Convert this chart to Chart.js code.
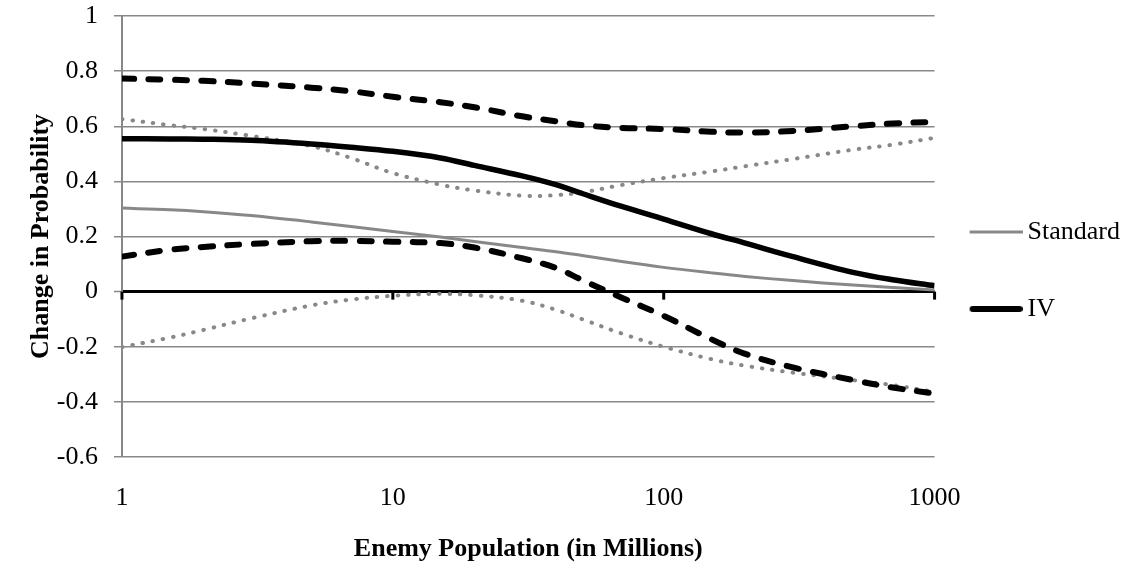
<!DOCTYPE html>
<html>
<head>
<meta charset="utf-8">
<script src="https://cdn.jsdelivr.net/npm/chart.js@4.4.1/dist/chart.umd.min.js"></script>
<style>
  html, body { margin: 0; padding: 0; background: #fff; }
  #wrap { width: 1130px; height: 568px; }
</style>
</head>
<body>
<div id="wrap"><canvas id="chart" width="1130" height="568"></canvas></div>
<script>
// enemy population (millions)
const population = [1, 1.5, 2, 3, 5, 7, 10, 15, 20, 30, 40, 50, 70, 100, 150, 200, 300, 500, 700, 1000];

const standard     = [0.303, 0.297, 0.290, 0.276, 0.253, 0.236, 0.218, 0.198, 0.182, 0.160, 0.145, 0.131, 0.109, 0.088, 0.068, 0.055, 0.040, 0.024, 0.015, 0.006];
const standardHigh = [0.626, 0.604, 0.590, 0.565, 0.528, 0.485, 0.430, 0.388, 0.367, 0.348, 0.350, 0.360, 0.387, 0.412, 0.436, 0.455, 0.481, 0.515, 0.533, 0.558];
const standardLow  = [-0.201, -0.167, -0.139, -0.097, -0.050, -0.029, -0.015, -0.008, -0.013, -0.033, -0.066, -0.100, -0.152, -0.200, -0.245, -0.269, -0.294, -0.321, -0.339, -0.364];

const iv     = [0.555, 0.554, 0.553, 0.549, 0.536, 0.524, 0.509, 0.485, 0.458, 0.420, 0.388, 0.356, 0.309, 0.263, 0.210, 0.176, 0.127, 0.070, 0.043, 0.021];
const ivHigh = [0.773, 0.769, 0.765, 0.755, 0.740, 0.727, 0.707, 0.687, 0.669, 0.636, 0.618, 0.604, 0.594, 0.590, 0.580, 0.577, 0.583, 0.600, 0.610, 0.616];
const ivLow  = [0.127, 0.152, 0.162, 0.173, 0.183, 0.184, 0.181, 0.176, 0.160, 0.121, 0.086, 0.042, -0.022, -0.088, -0.173, -0.226, -0.275, -0.321, -0.348, -0.370];

const xTicks = [1, 10, 100, 1000];

const GRAY = '#888888';

Chart.defaults.font.family = "'Liberation Serif', 'Times New Roman', serif";
Chart.defaults.font.size = 26;
Chart.defaults.color = '#000';

function points(values) {
    return population.map((x, i) => ({ x: x, y: values[i] }));
}

// little line images used as legend markers
function legendLine(color, width, cap) {
    const c = document.createElement('canvas');
    c.width = 61;
    c.height = 8;
    const g = c.getContext('2d');
    g.strokeStyle = color;
    g.lineWidth = width;
    g.lineCap = cap;
    const inset = cap === 'round' ? width / 2 : 0;
    g.beginPath();
    g.moveTo(8 + inset, 4);
    g.lineTo(61 - inset, 4);
    g.stroke();
    return c;
}
const legendMarks = [legendLine(GRAY, 3, 'butt'), legendLine('#000', 6, 'round')];

// black tick marks below the zero line
const zeroTicks = {
    id: 'zeroTicks',
    beforeDatasetsDraw(chart) {
        const { ctx, scales: { x, y } } = chart;
        const y0 = y.getPixelForValue(0);
        ctx.save();
        ctx.strokeStyle = '#000';
        ctx.lineWidth = 3;
        xTicks.forEach(v => {
            const px = x.getPixelForValue(v);
            ctx.beginPath();
            ctx.moveTo(px, y0);
            ctx.lineTo(px, y0 + 8);
            ctx.stroke();
        });
        ctx.restore();
    }
};

const isZero = ctx => ctx.tick && Math.abs(ctx.tick.value) < 1e-9;

const line = {
    pointRadius: 0,
    pointHoverRadius: 0,
    fill: false,
    tension: 0.35
};

new Chart(document.getElementById('chart'), {
    type: 'line',
    data: {
        datasets: [
            { ...line, label: 'Standard', data: points(standard), borderColor: GRAY, borderWidth: 3, order: 2 },
            { ...line, label: 'IV', data: points(iv), borderColor: '#000', borderWidth: 5.5, order: 0 },
            { ...line, label: 'Standard high', data: points(standardHigh), borderColor: GRAY, borderWidth: 4,
              borderDash: [0.5, 9.9], borderCapStyle: 'round', order: 3 },
            { ...line, label: 'Standard low', data: points(standardLow), borderColor: GRAY, borderWidth: 4,
              borderDash: [0.5, 9.9], borderCapStyle: 'round', order: 3 },
            { ...line, label: 'IV high', data: points(ivHigh), borderColor: '#000', borderWidth: 6,
              borderDash: [12, 14.5], borderCapStyle: 'round', order: 1 },
            { ...line, label: 'IV low', data: points(ivLow), borderColor: '#000', borderWidth: 6,
              borderDash: [12, 14.5], borderCapStyle: 'round', order: 1 }
        ]
    },
    options: {
        responsive: false,
        animation: false,
        devicePixelRatio: 1,
        layout: { padding: { left: 0, right: 0, top: 0, bottom: 11 } },
        scales: {
            x: {
                type: 'logarithmic',
                min: 1,
                max: 1000,
                afterBuildTicks: s => { s.ticks = xTicks.map(v => ({ value: v })); },
                ticks: { padding: 25.4, autoSkip: false, maxRotation: 0, callback: v => String(v) },
                grid: { display: false, drawTicks: false },
                border: { display: false },
                title: {
                    display: true,
                    text: 'Enemy Population (in Millions)',
                    font: { size: 26, weight: 'bold', lineHeight: '16px' },
                    padding: { top: 2, bottom: 0 }
                }
            },
            y: {
                min: -0.6,
                max: 1,
                ticks: {
                    stepSize: 0.2,
                    padding: 16,
                    font: { size: 26, lineHeight: '0px' },
                    callback: v => String(Math.round(v * 10) / 10)
                },
                grid: {
                    color: ctx => isZero(ctx) ? '#000' : GRAY,
                    lineWidth: ctx => isZero(ctx) ? 3 : 1.5,
                    tickColor: GRAY,
                    tickWidth: 1.5,
                    tickLength: 8
                },
                border: { color: GRAY, width: 2 },
                title: {
                    display: true,
                    text: 'Change in Probability',
                    font: { size: 26, weight: 'bold' },
                    padding: { top: 25.6, bottom: -16 }
                }
            }
        },
        plugins: {
            tooltip: { enabled: false },
            legend: {
                position: 'right',
                labels: {
                    usePointStyle: true,
                    pointStyleWidth: 45,
                    padding: 35,
                    color: '#000',
                    font: { size: 26, lineHeight: '42px' },
                    generateLabels(chart) {
                        const items = Chart.defaults.plugins.legend.labels.generateLabels(chart);
                        return items
                            .filter(it => it.datasetIndex < 2)
                            .sort((a, b) => a.datasetIndex - b.datasetIndex)
                            .map(it => ({ ...it, text: [it.text], pointStyle: legendMarks[it.datasetIndex] }));
                    }
                }
            }
        }
    },
    plugins: [zeroTicks]
});
</script>
</body>
</html>
